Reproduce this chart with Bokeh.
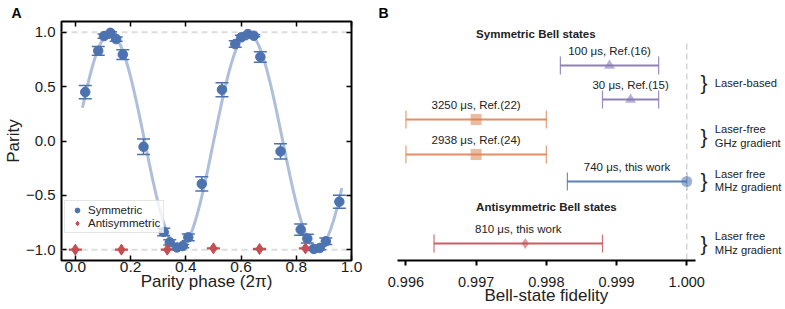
import math
from bokeh.plotting import figure
from bokeh.layouts import row
from bokeh.models import (ColumnDataSource, Whisker, TeeHead, Span, Legend, LegendItem, Title,
                          FixedTicker, NumeralTickFormatter, CustomJSTickFormatter, LinearAxis, Range1d)
from bokeh.core.properties import value
from bokeh.embed import file_html
from bokeh.resources import INLINE

FONT = "Liberation Sans"
BLUE = "#4c72b0"
RED = "#c44e52"
ORANGE = "#dd8452"
PURPLE = "#8172b3"
TXT = "#222222"

# ---------------- Panel A data ----------------
sym_phase = [0.036, 0.083, 0.104, 0.127, 0.148, 0.172, 0.247, 0.320, 0.342, 0.368, 0.389, 0.409,
             0.458, 0.531, 0.579, 0.601, 0.625, 0.646, 0.670, 0.743, 0.816, 0.840, 0.864, 0.885,
             0.907, 0.956]
sym_parity = [0.45, 0.83, 0.966, 0.996, 0.938, 0.796, -0.053, -0.837, -0.933, -0.98, -0.967, -0.887,
              -0.395, 0.472, 0.892, 0.954, 0.984, 0.969, 0.774, -0.096, -0.815, -0.898, -0.994, -0.985,
              -0.923, -0.559]
sym_err = [0.06, 0.04, 0.02, 0.01, 0.02, 0.045, 0.072, 0.035, 0.025, 0.015, 0.015, 0.032,
           0.065, 0.065, 0.03, 0.02, 0.01, 0.01, 0.048, 0.07, 0.052, 0.04, 0.015, 0.015,
           0.03, 0.06]
anti_phase = [0.0, 0.167, 0.333, 0.5, 0.667, 0.833]
anti_parity = [-1.0, -1.0, -1.0, -0.988, -0.994, -0.988]
anti_err = [0.004, 0.004, 0.004, 0.004, 0.004, 0.004]
# sinusoidal fit of the symmetric data: amplitude, peak position, period (units of 2pi)
fit_amp = 0.99
fit_peak = 0.126
fit_period = 0.5
fit_start = 0.026
fit_end = 0.965
x_ticks_a = [0.0, 0.2, 0.4, 0.6, 0.8, 1.0]
y_ticks_a = [-1.0, -0.5, 0.0, 0.5, 1.0]

# ---------------- Panel B data ----------------
row_labels = ["100 μs, Ref.(16)", "30 μs, Ref.(15)", "3250 μs, Ref.(22)", "2938 μs, Ref.(24)",
              "740 μs, this work", "810 μs, this work"]
row_fid = [0.9989, 0.9992, 0.9970, 0.9970, 1.0000, 0.9977]
row_lo = [0.9982, 0.9988, 0.9960, 0.9960, 0.9983, 0.9964]
row_hi = [0.9996, 0.9996, 0.9980, 0.9980, 1.0000, 0.9988]
row_marker = ["triangle", "triangle", "square", "square", "circle", "diamond"]
row_color = [PURPLE, PURPLE, ORANGE, ORANGE, BLUE, RED]
row_pos = [19.4, 16.0, 14.0, 10.5, 7.8, 1.6]
group_text = ["Laser-based", "Laser-free\nGHz gradient", "Laser free\nMHz gradient", "Laser free\nMHz gradient"]
group_pos = [17.7, 12.35, 7.9, 1.65]
header_text = ["Symmetric Bell states", "Antisymmetric Bell states"]
header_pos = [22.57, 5.3]
x_ticks_b = [0.996, 0.997, 0.998, 0.999, 1.000]
xlim_b = (0.99588, 1.00012)

# =============== Panel A ===============
pA = figure(width=376, height=309, x_range=Range1d(-0.05, 1.0), y_range=Range1d(-1.1, 1.1),
            output_backend="svg", toolbar_location=None,
            min_border_left=56, min_border_right=25, min_border_top=21, min_border_bottom=49,
            x_axis_location=None, y_axis_location=None)
pA.grid.visible = False
pA.outline_line_color = "black"
pA.outline_line_width = 2
pA.background_fill_color = "white"
pA.border_fill_color = "white"

def style_axis(ax, font_size, show_labels=True):
    ax.axis_line_color = None
    ax.major_tick_in = 5
    ax.major_tick_out = 0
    ax.major_tick_line_width = 1.5
    ax.major_tick_line_color = "black"
    ax.minor_tick_line_color = None
    ax.major_label_text_font = FONT
    ax.major_label_text_font_size = font_size
    ax.major_label_text_color = "#1a1a1a"
    ax.axis_label_text_font = FONT
    ax.axis_label_text_font_size = "17px"
    ax.axis_label_text_font_style = "normal"
    ax.axis_label_text_color = TXT
    if not show_labels:
        ax.formatter = CustomJSTickFormatter(code="return ''")
        ax.major_label_standoff = 0

xb = LinearAxis(ticker=FixedTicker(ticks=x_ticks_a), formatter=NumeralTickFormatter(format="0.0"),
                axis_label="Parity phase (2π)")
style_axis(xb, "15.5px")
xb.major_label_standoff = 1
xb.axis_label_standoff = -3
pA.add_layout(xb, "below")
yl = LinearAxis(ticker=FixedTicker(ticks=y_ticks_a), axis_label="Parity",
                formatter=CustomJSTickFormatter(code="return (tick < 0 ? '\u2212' : '') + Math.abs(tick).toFixed(1)"))
style_axis(yl, "15px")
yl.major_label_standoff = 6
yl.axis_label_standoff = 0
pA.add_layout(yl, "left")
xt = LinearAxis(ticker=FixedTicker(ticks=x_ticks_a))
style_axis(xt, "1px", show_labels=False)
pA.add_layout(xt, "above")
yr = LinearAxis(ticker=FixedTicker(ticks=y_ticks_a))
style_axis(yr, "1px", show_labels=False)
pA.add_layout(yr, "right")

pA.add_layout(Title(text="A", align="left", offset=-50, standoff=2, text_font=FONT,
                    text_font_size="14px", text_font_style="bold", text_color="black"), "above")

for loc in y_ticks_a[::4]:
    pA.add_layout(Span(location=loc, dimension="width", line_color="#dddddd",
                       line_dash="6 4", line_width=2, level="underlay"))

# fit curve
n = 300
fx = [fit_start + (fit_end - fit_start) * i / (n - 1) for i in range(n)]
fy = [fit_amp * math.cos(2 * math.pi * (x - fit_peak) / fit_period) for x in fx]
pA.line(fx, fy, line_color=BLUE, line_alpha=0.45, line_width=3)

src_s = ColumnDataSource(dict(x=sym_phase, y=sym_parity,
                              lo=[v - e for v, e in zip(sym_parity, sym_err)],
                              hi=[v + e for v, e in zip(sym_parity, sym_err)]))
src_a = ColumnDataSource(dict(x=anti_phase, y=anti_parity,
                              lo=[v - e for v, e in zip(anti_parity, anti_err)],
                              hi=[v + e for v, e in zip(anti_parity, anti_err)]))
for src, col in ((src_s, BLUE), (src_a, RED)):
    w = Whisker(source=src, base="x", lower="lo", upper="hi", dimension="height",
                line_color=col, line_width=1.5,
                upper_head=TeeHead(size=13, line_color=col, line_width=1.5),
                lower_head=TeeHead(size=13, line_color=col, line_width=1.5))
    pA.add_layout(w)

rs = pA.scatter("x", "y", source=src_s, marker="circle", size=9.5, fill_color=BLUE, line_color=BLUE)
ra = pA.scatter("x", "y", source=src_a, marker="diamond", size=11, fill_color=RED, line_color=RED)

leg = Legend(items=[LegendItem(label="Symmetric", renderers=[rs]),
                    LegendItem(label="Antisymmetric", renderers=[ra])],
             location=(3, 27), padding=3, spacing=1, margin=0,
             glyph_width=18, glyph_height=12, label_height=12, label_standoff=2,
             label_text_font=FONT, label_text_font_size="11.5px", label_text_color=TXT,
             border_line_color="#cccccc", border_line_width=1,
             background_fill_color="white", background_fill_alpha=0.8)
pA.add_layout(leg)

# =============== Panel B ===============
pB = figure(width=409, height=309, x_range=Range1d(xlim_b[0], 1.001407), y_range=Range1d(-0.1, 23.8),
            output_backend="svg", toolbar_location=None,
            min_border_left=21, min_border_right=0, min_border_top=21, min_border_bottom=49,
            x_axis_location=None, y_axis_location=None)
pB.grid.visible = False
pB.outline_line_color = None
pB.background_fill_color = "white"
pB.border_fill_color = "white"

xB = LinearAxis(ticker=FixedTicker(ticks=x_ticks_b), formatter=NumeralTickFormatter(format="0.000"))
xB.bounds = xlim_b
xB.axis_line_width = 2
xB.axis_line_color = "black"
xB.major_tick_out = 5
xB.major_tick_in = 0
xB.major_tick_line_width = 2
xB.minor_tick_line_color = None
xB.major_label_text_font = FONT
xB.major_label_text_font_size = "14.5px"
xB.major_label_text_color = "#1a1a1a"
xB.major_label_standoff = 11
pB.add_layout(xB, "below")
pB.add_layout(Title(text="Bell-state fidelity", align="left", offset=87, standoff=-12, text_font=FONT,
                    text_font_size="17px", text_font_style="normal", text_color=TXT), "below")
pB.add_layout(Title(text="B", align="left", offset=-19, standoff=2, text_font=FONT,
                    text_font_size="14px", text_font_style="bold", text_color="black"), "above")

# reference line at fidelity 1
pB.segment(x0=[x_ticks_b[-1]], y0=[0], x1=[x_ticks_b[-1]], y1=[21.6], line_color="#d5d5d5",
           line_dash="6 4", line_width=1.5)

src_b = ColumnDataSource(dict(fid=row_fid, lo=row_lo, hi=row_hi, y=row_pos,
                              marker=row_marker, color=row_color, label=row_labels,
                              mid=[(a + b) / 2 for a, b in zip(row_lo, row_hi)],
                              ty=[p + 1.5 for p in row_pos]))
for i in range(len(row_fid)):
    s = ColumnDataSource(dict(y=[row_pos[i]], lo=[row_lo[i]], hi=[row_hi[i]]))
    pB.add_layout(Whisker(source=s, base="y", lower="lo", upper="hi", dimension="width",
                          line_color=row_color[i], line_width=2, line_alpha=0.9,
                          upper_head=TeeHead(size=18, line_color=row_color[i], line_width=1.2, line_alpha=0.8),
                          lower_head=TeeHead(size=18, line_color=row_color[i], line_width=1.2, line_alpha=0.8)))
pB.scatter("fid", "y", source=src_b, marker="marker", size=11, fill_color="color",
           line_color=None, fill_alpha=0.55)
pB.text("mid", "ty", text="label", source=src_b, text_align="center", text_baseline="middle",
        text_font=value(FONT), text_font_size="11.5px", text_color=TXT)

hsrc = ColumnDataSource(dict(x=[x_ticks_b[1]] * 2, y=header_pos, t=header_text))
pB.text("x", "y", text="t", source=hsrc, text_align="left", text_baseline="middle",
        text_font=value(FONT), text_font_size="11.5px", text_font_style="bold", text_color=TXT)

gsrc = ColumnDataSource(dict(bx=[1.000245] * len(group_pos), tx=[1.000400] * len(group_pos),
                             y=group_pos, t=group_text, b=["}"] * len(group_pos)))
pB.text("bx", "y", text="b", source=gsrc, text_align="center", text_baseline="middle",
        text_font=value(FONT), text_font_size="21px", text_color=TXT)
pB.text("tx", "y", text="t", source=gsrc, text_align="left", text_baseline="middle",
        text_font=value(FONT), text_font_size="11.2px", text_color=TXT, text_line_height=1.1)

layout = row(pA, pB)
open("out.html", "w").write(file_html(layout, INLINE))
